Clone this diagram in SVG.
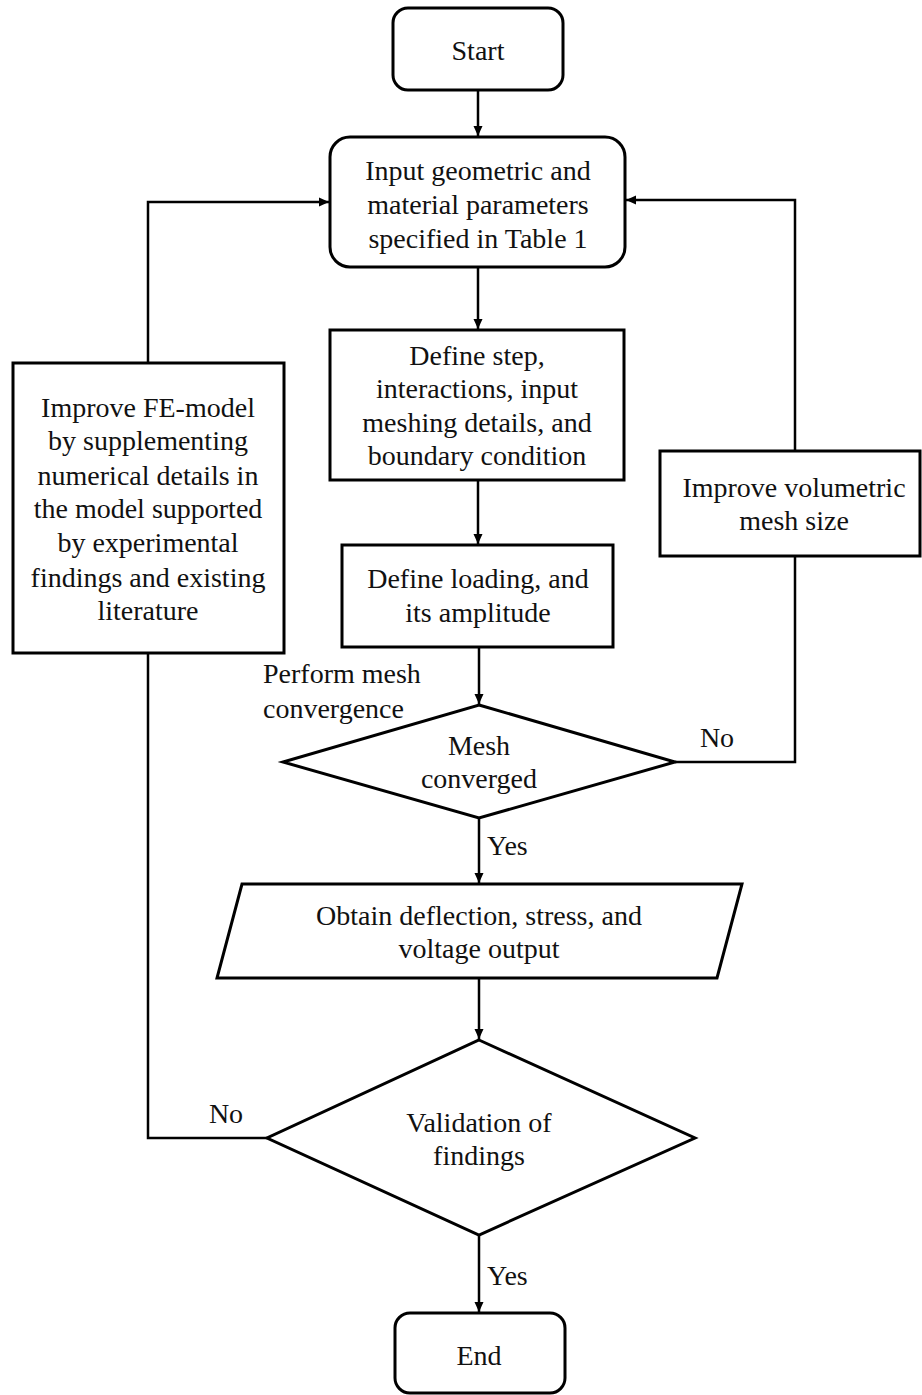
<svg xmlns="http://www.w3.org/2000/svg" width="922" height="1395" viewBox="0 0 922 1395">
<style>
  .box { fill: #ffffff; stroke: #000000; stroke-width: 3; stroke-linejoin: miter; }
  .t { font-family: "Liberation Serif", "Times New Roman", serif; font-size: 28px; fill: #111111; text-anchor: middle; }
  .tl { font-family: "Liberation Serif", "Times New Roman", serif; font-size: 28px; fill: #111111; text-anchor: start; }
  .c { fill: none; stroke: #000000; stroke-width: 2.5; }
</style>
<defs>
  <marker id="arr" markerUnits="userSpaceOnUse" markerWidth="10" markerHeight="10" refX="10" refY="5" orient="auto">
    <path d="M0,0.5 L10,5 L0,9.5 z" fill="#000000"/>
  </marker>
</defs>
<rect x="0" y="0" width="922" height="1395" fill="#ffffff"/>

<g id="connectors">
  <line class="c" x1="478" y1="90" x2="478" y2="136" marker-end="url(#arr)"/>
  <line class="c" x1="478" y1="267" x2="478" y2="329" marker-end="url(#arr)"/>
  <line class="c" x1="478" y1="480" x2="478" y2="544" marker-end="url(#arr)"/>
  <line class="c" x1="479" y1="647" x2="479" y2="704" marker-end="url(#arr)"/>
  <line class="c" x1="479" y1="818" x2="479" y2="883" marker-end="url(#arr)"/>
  <line class="c" x1="479" y1="978" x2="479" y2="1039" marker-end="url(#arr)"/>
  <line class="c" x1="479" y1="1235" x2="479" y2="1312" marker-end="url(#arr)"/>
  <polyline class="c" points="675,762 795,762 795,556"/>
  <polyline class="c" points="795,451 795,200 626,200" marker-end="url(#arr)"/>
  <polyline class="c" points="267,1138 148,1138 148,653"/>
  <polyline class="c" points="148,363 148,202 329,202" marker-end="url(#arr)"/>
  <text class="tl" x="487" y="855">Yes</text>
  <text class="tl" x="487" y="1285">Yes</text>
  <text class="t" x="717" y="747">No</text>
  <text class="t" x="226" y="1123">No</text>
  <text class="tl" x="263" y="683">Perform mesh</text>
  <text class="tl" x="263" y="718">convergence</text>
</g>

<g id="start">
  <rect class="box" x="393" y="8" width="170" height="82" rx="15" ry="15"/>
  <text class="t" x="478" y="60">Start</text>
</g>

<g id="input">
  <rect class="box" x="330" y="137" width="295" height="130" rx="20" ry="20"/>
  <text class="t" x="478" y="180">Input geometric and</text>
  <text class="t" x="478" y="214">material parameters</text>
  <text class="t" x="478" y="248">specified in Table 1</text>
</g>

<g id="define-step">
  <rect class="box" x="330" y="330" width="294" height="150"/>
  <text class="t" x="477" y="365">Define step,</text>
  <text class="t" x="477" y="398">interactions, input</text>
  <text class="t" x="477" y="432">meshing details, and</text>
  <text class="t" x="477" y="465">boundary condition</text>
</g>

<g id="define-loading">
  <rect class="box" x="342" y="545" width="271" height="102"/>
  <text class="t" x="478" y="588">Define loading, and</text>
  <text class="t" x="478" y="622">its amplitude</text>
</g>

<g id="improve-fe">
  <rect class="box" x="13" y="363" width="271" height="290"/>
  <text class="t" x="148" y="417">Improve FE-model</text>
  <text class="t" x="148" y="450">by supplementing</text>
  <text class="t" x="148" y="485">numerical details in</text>
  <text class="t" x="148" y="518">the model supported</text>
  <text class="t" x="148" y="552">by experimental</text>
  <text class="t" x="148" y="587">findings and existing</text>
  <text class="t" x="148" y="620">literature</text>
</g>

<g id="improve-mesh">
  <rect class="box" x="660" y="451" width="260" height="105"/>
  <text class="t" x="794" y="497">Improve volumetric</text>
  <text class="t" x="794" y="530">mesh size</text>
</g>

<g id="mesh-converged">
  <polygon class="box" points="479,705 675,762 479,818 283,762"/>
  <text class="t" x="479" y="755">Mesh</text>
  <text class="t" x="479" y="788">converged</text>
</g>

<g id="obtain">
  <polygon class="box" points="242,884 742,884 717,978 217,978"/>
  <text class="t" x="479" y="925">Obtain deflection, stress, and</text>
  <text class="t" x="479" y="958">voltage output</text>
</g>

<g id="validation">
  <polygon class="box" points="479,1040 695,1138 479,1235 267,1138"/>
  <text class="t" x="479" y="1132">Validation of</text>
  <text class="t" x="479" y="1165">findings</text>
</g>

<g id="end">
  <rect class="box" x="395" y="1313" width="170" height="80" rx="15" ry="15"/>
  <text class="t" x="479" y="1365">End</text>
</g>
</svg>
